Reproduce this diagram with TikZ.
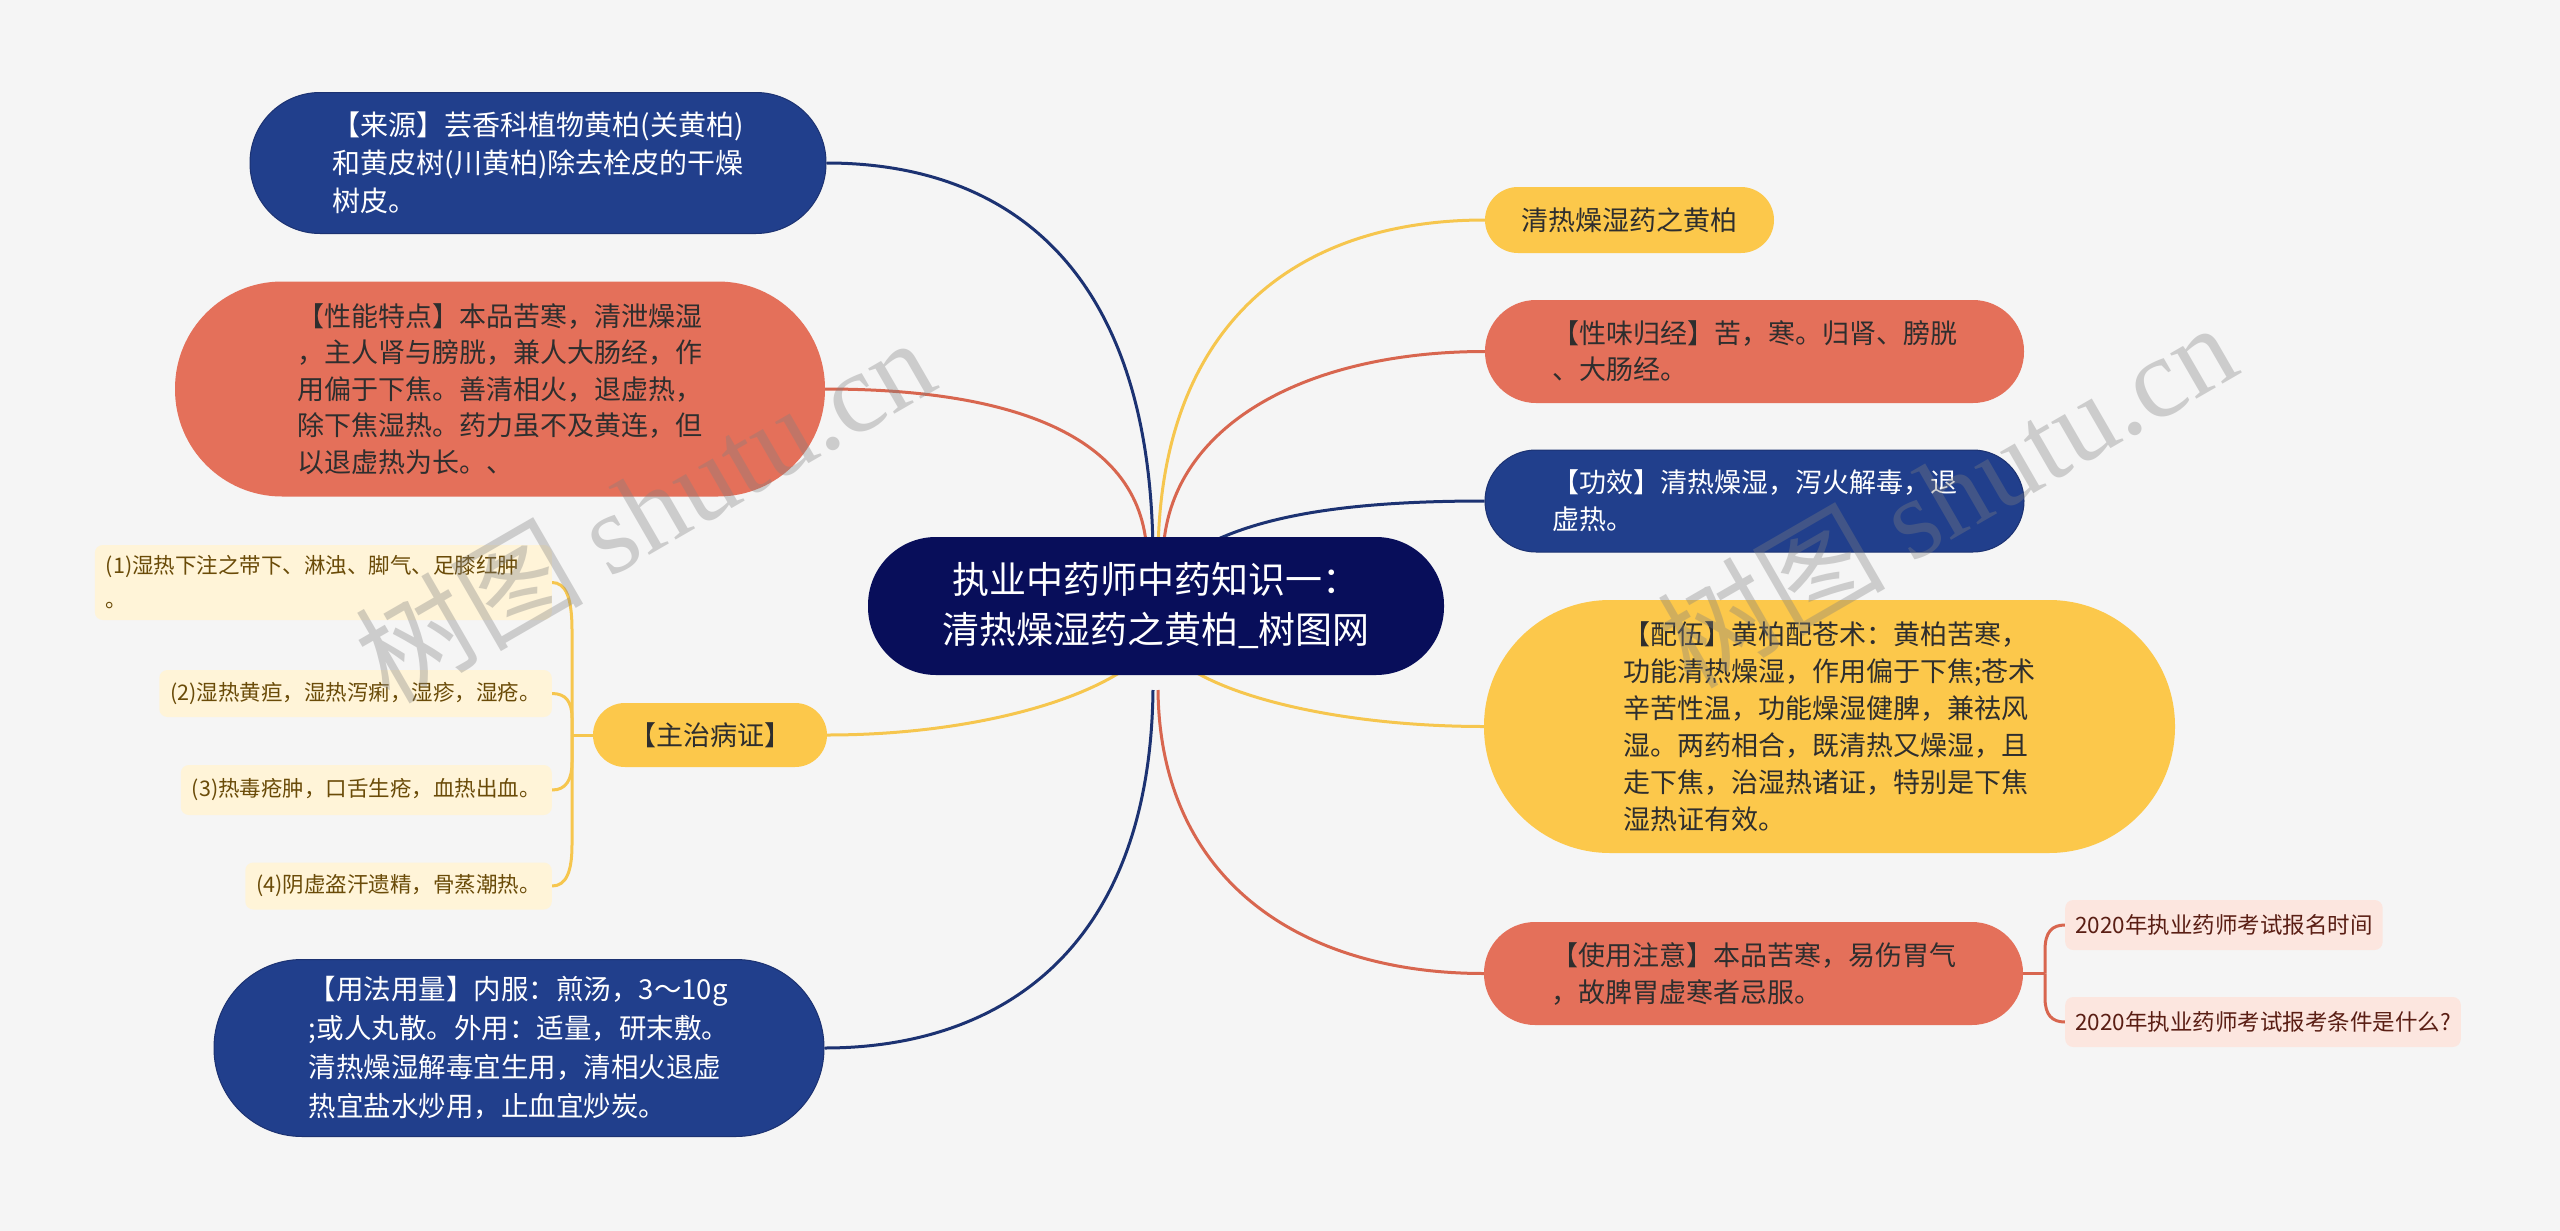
\documentclass[tikz,border=0pt]{standalone}
\usepackage{fontspec}
\newfontfamily\cjk{Noto Sans CJK SC}
\newfontfamily\wmlatin{Liberation Serif}
\pgfdeclarelayer{bgl}
\pgfdeclarelayer{edgel}
\pgfdeclarelayer{wml}
\pgfsetlayers{bgl,edgel,main,wml}
\definecolor{bgc}{HTML}{F5F5F5}
\definecolor{rootc}{HTML}{080E5A}
\definecolor{bluec}{HTML}{213F8C}
\definecolor{bluel}{HTML}{1C3272}
\definecolor{coralc}{HTML}{E4705A}
\definecolor{corall}{HTML}{D8664F}
\definecolor{yelc}{HTML}{FCC84B}
\definecolor{yell}{HTML}{F6C64E}
\definecolor{creamc}{HTML}{FFF4D8}
\definecolor{creamt}{HTML}{6A4B08}
\definecolor{pinkc}{HTML}{FCE6DF}
\definecolor{pinkt}{HTML}{5A1E14}
\definecolor{darkt}{HTML}{2E2E2E}
\tikzset{
  base/.style={inner sep=0pt, align=left, font=\cjk\fontsize{27}{37}\selectfont},
  rootnode/.style={base, align=center, fill=rootc, text=white, font=\cjk\fontsize{37}{50}\selectfont},
  bluenode/.style={base, fill=bluec, draw=bluel, line width=1pt, text=white},
  coralnode/.style={base, fill=coralc, text=darkt},
  yelnode/.style={base, fill=yelc, text=darkt},
  creamnode/.style={base, anchor=east, fill=creamc, text=creamt, inner xsep=11pt, rounded corners=8pt, font=\cjk\fontsize{21.5}{34}\selectfont},
  pinknode/.style={base, anchor=west, fill=pinkc, text=pinkt, inner xsep=10pt, rounded corners=8pt, minimum height=50pt, font=\cjk\fontsize{22.5}{30}\selectfont},
  conn/.style={line width=3pt},
  bluecon/.style={conn, draw=bluel},
  coralcon/.style={conn, draw=corall},
  yelcon/.style={conn, draw=yell},
  wmark/.style={text=black!50, opacity=0.35, rotate=30, inner sep=0pt}
}
\begin{document}
\begin{tikzpicture}[x=1pt,y=-1pt]
\begin{pgfonlayer}{bgl}
\fill[bgc] (0,0) rectangle (2560,1231);
\end{pgfonlayer}
\useasboundingbox (0,0) rectangle (2560,1231);

% root
\node[rootnode, minimum width=576pt, minimum height=138pt, rounded corners=68pt] (root) at (1156,606)
  {执业中药师中药知识一：\\清热燥湿药之黄柏\_树图网};

% left side
\node[bluenode, minimum width=576pt, minimum height=141pt, rounded corners=70pt, font=\cjk\fontsize{28}{38}\selectfont] (laiyuan) at (538,163)
  {【来源】芸香科植物黄柏(关黄柏)\\和黄皮树(川黄柏)除去栓皮的干燥\\树皮。};
\node[coralnode, minimum width=650pt, minimum height=215pt, rounded corners=107pt, font=\cjk\fontsize{27}{36.5}\selectfont] (xingneng) at (500,389)
  {【性能特点】本品苦寒，清泄燥湿\\，主人肾与膀胱，兼人大肠经，作\\用偏于下焦。善清相火，退虚热，\\除下焦湿热。药力虽不及黄连，但\\以退虚热为长。、};
\node[yelnode, align=center, minimum width=234pt, minimum height=64pt, rounded corners=32pt] (zhuzhi) at (710,735)
  {【主治病证】};
\node[creamnode, minimum height=75pt, text width=435pt] (z1) at (552,582.5) {(1)湿热下注之带下、淋浊、脚气、足膝红肿\\。};
\node[creamnode, minimum height=47pt] (z2) at (552,693.5) {(2)湿热黄疸，湿热泻痢，湿疹，湿疮。};
\node[creamnode, minimum height=50pt] (z3) at (552,790) {(3)热毒疮肿，口舌生疮，血热出血。};
\node[creamnode, minimum height=47pt] (z4) at (552,886) {(4)阴虚盗汗遗精，骨蒸潮热。};
\node[bluenode, minimum width=610pt, minimum height=177pt, rounded corners=88pt, font=\cjk\fontsize{27.5}{39}\selectfont] (yongfa) at (519,1048)
  {【用法用量】内服：煎汤，3～10g\\;或人丸散。外用：适量，研末敷。\\清热燥湿解毒宜生用，清相火退虚\\热宜盐水炒用，止血宜炒炭。};

% right side
\node[yelnode, align=center, minimum width=289pt, minimum height=66pt, rounded corners=33pt] (qingre) at (1629.5,220)
  {清热燥湿药之黄柏};
\node[coralnode, minimum width=539pt, minimum height=103pt, rounded corners=51pt, font=\cjk\fontsize{27}{36}\selectfont] (xingwei) at (1754.5,351.5)
  {【性味归经】苦，寒。归肾、膀胱\\、大肠经。};
\node[bluenode, minimum width=539pt, minimum height=102pt, rounded corners=51pt] (gongxiao) at (1754.5,501)
  {【功效】清热燥湿，泻火解毒，退\\虚热。};
\node[yelnode, minimum width=691pt, minimum height=253pt, rounded corners=126pt] (peiwu) at (1829.5,726.5)
  {【配伍】黄柏配苍术：黄柏苦寒，\\功能清热燥湿，作用偏于下焦;苍术\\辛苦性温，功能燥湿健脾，兼祛风\\湿。两药相合，既清热又燥湿，且\\走下焦，治湿热诸证，特别是下焦\\湿热证有效。};
\node[coralnode, minimum width=539pt, minimum height=103pt, rounded corners=51pt] (shiyong) at (1753.5,973.5)
  {【使用注意】本品苦寒，易伤胃气\\，故脾胃虚寒者忌服。};
\node[pinknode] (p1) at (2065,925) {2020年执业药师考试报名时间};
\node[pinknode] (p2) at (2065,1022) {2020年执业药师考试报考条件是什么?};

% connector start points on the root
\coordinate (s1) at (1153,560);
\coordinate (s2) at (1147,560);
\coordinate (s3) at (1158,560);
\coordinate (s4) at (1163,560);
\coordinate (s5) at (1200,548);
\coordinate (b1) at (1135,662);
\coordinate (b2) at (1180,662);
\coordinate (b3) at (1153,690);
\coordinate (b4) at (1158,690);
\coordinate (jz) at (572,735);
\coordinate (js) at (2045,973.5);

\begin{pgfonlayer}{edgel}
\draw[bluecon] (s1) .. controls (1153,260) and (1000,163) .. (laiyuan.east);
\draw[coralcon] (s2) .. controls (1147,430) and (1000,389) .. (xingneng.east);
\draw[yelcon] (s3) .. controls (1158,330) and (1290,220) .. (qingre.west);
\draw[coralcon] (s4) .. controls (1163,430) and (1300,351.5) .. (xingwei.west);
\draw[bluecon] (s5) .. controls (1260,515) and (1350,501) .. (gongxiao.west);
\draw[yelcon] (b1) .. controls (1080,705) and (960,735) .. (zhuzhi.east);
\draw[yelcon] (b2) .. controls (1230,700) and (1350,726.5) .. (peiwu.west);
\draw[bluecon] (b3) .. controls (1150,950) and (1000,1048) .. (yongfa.east);
\draw[coralcon] (b4) .. controls (1160,880) and (1300,973.5) .. (shiyong.west);
% bracket for 主治病证
\draw[yelcon] (zhuzhi.west) -- (jz);
\draw[yelcon] (jz) -- (572,630) .. controls (572,598) and (566,582.5) .. (z1.east);
\draw[yelcon] (jz) -- (572,718) .. controls (572,702) and (566,693.5) .. (z2.east);
\draw[yelcon] (jz) -- (572,762) .. controls (572,780) and (566,790) .. (z3.east);
\draw[yelcon] (jz) -- (572,845) .. controls (572,872) and (566,886) .. (z4.east);
% bracket for 使用注意
\draw[coralcon] (shiyong.east) -- (js);
\draw[coralcon] (js) -- (2045,950) .. controls (2045,932) and (2052,925) .. (p1.west);
\draw[coralcon] (js) -- (2045,998) .. controls (2045,1015) and (2052,1022) .. (p2.west);
\end{pgfonlayer}

% watermarks
\begin{pgfonlayer}{wml}
\node[wmark] (wm1) at (644,509) {\cjk\fontsize{114}{114}\selectfont 树图\ \wmlatin shutu.cn};
\node[wmark] (wm2) at (1946,494) {\cjk\fontsize{114}{114}\selectfont 树图\ \wmlatin shutu.cn};
\end{pgfonlayer}
\end{tikzpicture}
\end{document}
